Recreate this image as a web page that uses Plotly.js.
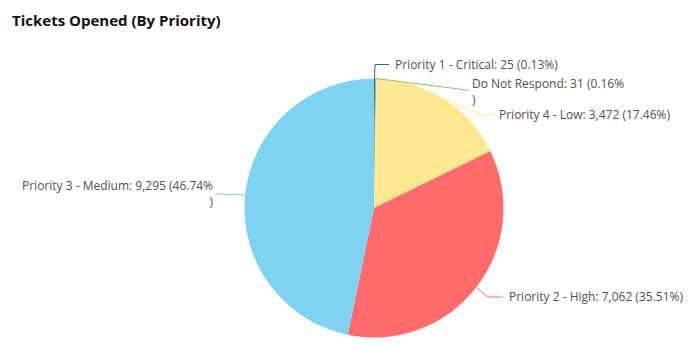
<!DOCTYPE html>
<html>
<head>
<meta charset="utf-8">
<script src="https://cdn.plot.ly/plotly-3.0.1.min.js"></script>
<style>html,body{margin:0;padding:0;background:#fff;}#chart{width:699px;height:352px;}</style>
</head>
<body>
<div id="chart"></div>
<script>
// ---- data ----
const labels = ["Priority 1 - Critical", "Do Not Respond", "Priority 4 - Low", "Priority 2 - High", "Priority 3 - Medium"];
const values = [25, 31, 3472, 7062, 9295];
const percentText = ["0.13%", "0.16%", "17.46%", "35.51%", "46.74%"];
const colors = ["#3A5AA8", "#86CB78", "#FFE88F", "#FF6B6B", "#7ED3F3"];

// ---- layout / style ----
const W = 699, H = 352;
const CX = 374, CY = 208, R = 129.5;
// label placement (elbow point, horizontal tail end, text anchor) in pixels, per slice
const labelStyle = [
  {elbow: [375, 64.5], end: [389, 64.5], text: [393, 64.5], anchor: "left", wrap: false},
  {elbow: [467, 90], end: [469, 90.5], text: [470, 91], anchor: "left", wrap: true},
  {elbow: [482, 115], end: [495, 115], text: [497, 114.5], anchor: "left", wrap: false},
  {elbow: [488, 297], end: [503, 297], text: [507, 296.5], anchor: "left", wrap: false},
  {elbow: [216, 194], end: [215, 194], text: [216, 193], anchor: "right", wrap: true}
];

const px = x => x / W;
const py = y => 1 - y / H;
const fmt = n => n.toLocaleString("en-US");

const total = values.reduce((a, b) => a + b, 0);
let cum = 0;
const shapes = [], annotations = [];
values.forEach((v, i) => {
  const mid = (cum + v / 2) / total;
  cum += v;
  const th = mid * 2 * Math.PI;
  const ax = CX + R * Math.sin(th);
  const ay = CY - R * Math.cos(th);
  const s = labelStyle[i];
  const lineStyle = {color: colors[i], width: 1};
  shapes.push({type: "line", xref: "paper", yref: "paper",
    x0: px(ax), y0: py(ay), x1: px(s.elbow[0]), y1: py(s.elbow[1]), line: lineStyle, layer: "above"});
  shapes.push({type: "line", xref: "paper", yref: "paper",
    x0: px(s.elbow[0]), y0: py(s.elbow[1]), x1: px(s.end[0]), y1: py(s.end[1]), line: lineStyle, layer: "above"});
  const base = labels[i] + ": " + fmt(v) + " (" + percentText[i];
  const txt = s.wrap ? base + "<br>)" : base + ")";
  annotations.push({xref: "paper", yref: "paper", x: px(s.text[0]), y: py(s.text[1]),
    xanchor: s.anchor, yanchor: "middle", align: s.anchor, showarrow: false,
    text: txt, font: {family: "Open Sans, sans-serif", size: 12, color: "#505050"}});
});

const trace = {
  type: "pie",
  labels: labels,
  values: values,
  sort: false,
  direction: "clockwise",
  rotation: 0,
  marker: {colors: colors, line: {width: 0}},
  textinfo: "none",
  hoverinfo: "none",
  showlegend: false,
  domain: {x: [(CX - R) / W, (CX + R) / W], y: [(H - CY - R) / H, (H - CY + R) / H]}
};

const layout = {
  width: W, height: H,
  margin: {l: 0, r: 0, t: 0, b: 0},
  paper_bgcolor: "#ffffff",
  title: {text: "<b>Tickets Opened (By Priority)</b>", x: 12 / W, xanchor: "left", y: 1 - 21 / H, yanchor: "middle",
    font: {family: "Open Sans, sans-serif", size: 15, color: "#111111"}},
  shapes: shapes,
  annotations: annotations,
  showlegend: false
};

Plotly.newPlot("chart", [trace], layout, {displayModeBar: false, staticPlot: true});
</script>
</body>
</html>
